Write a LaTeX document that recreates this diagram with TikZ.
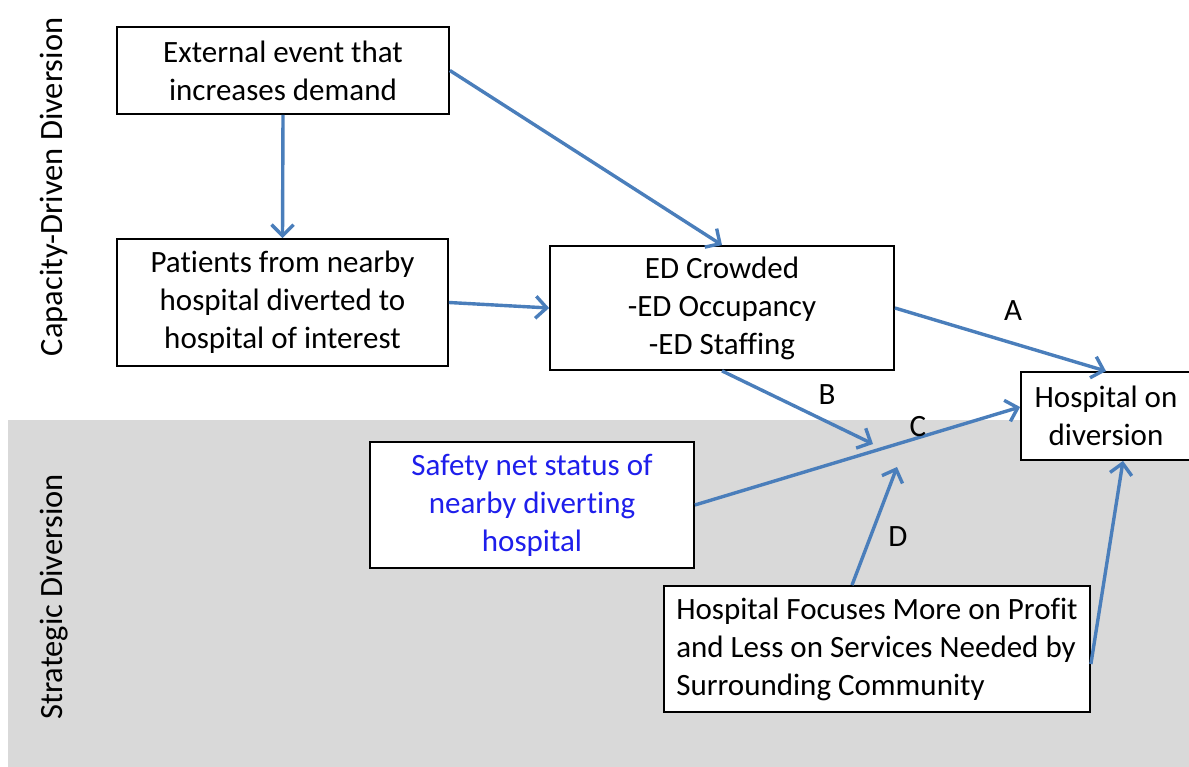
\documentclass[tikz,border=0pt]{standalone}
\usepackage{fontspec}
\setmainfont{Carlito}[Ligatures=NoCommon]
\usetikzlibrary{arrows.meta}
\definecolor{linkblue}{RGB}{74,126,187}
\definecolor{zonegray}{RGB}{217,217,217}
\definecolor{netblue}{RGB}{30,30,235}
\begin{document}
\begin{tikzpicture}[x=1pt,y=-1pt,
  every node/.style={font=\fontsize{31}{38}\selectfont},
  box/.style={draw=black,line width=1.8pt,fill=white,inner sep=0pt,align=center},
  link/.style={draw=linkblue,line width=3.4pt,
    -{Straight Barb[length=11pt,width=22pt,line width=3.4pt]}},
  side/.style={rotate=90,font=\fontsize{32.5}{40}\selectfont},
  tag/.style={inner sep=0pt}]
\useasboundingbox (0,0) rectangle (1189,767);
% strategic zone background
\fill[zonegray] (8,420) rectangle (1195,775);

% side captions
\node[side] (capcap) at (54,187) {Capacity-Driven Diversion};
\node[side] (capstr) at (54,597) {Strategic Diversion};

% boxes
\node[box,minimum width=332pt,minimum height=87pt] (ext) at (283,70.5)
  {External event that\\increases demand};
\node[box,minimum width=331pt,minimum height=127pt] (pat) at (282.5,302.5)
  {Patients from nearby\\hospital diverted to\\hospital of interest};
\node[box,minimum width=344pt,minimum height=124pt] (ed) at (722,308)
  {ED Crowded\\-ED Occupancy\\-ED Staffing};
\node[box,minimum width=170pt,minimum height=88pt] (div) at (1106,416)
  {Hospital on\\diversion};
\node[box,minimum width=324pt,minimum height=126pt,text=netblue] (net) at (532,505)
  {Safety net status of\\nearby diverting\\hospital};
\node[box,minimum width=426pt,minimum height=126pt,align=left] (prof) at (877,649)
  {Hospital Focuses More on Profit\\and Less on Services Needed by\\Surrounding Community};

% free ends meeting the C connector
\coordinate (bend) at (873,444);
\coordinate (dend) at (897,467);

% connectors
\draw[link] (ext.south) -- (pat.north);
\draw[link] (ext.east) -- (ed.north);
\draw[link] (pat.east) -- (ed.west);
\draw[link] (ed.east) -- (div.north);
\draw[link] (ed.south) -- (bend);
\draw[link] (net.east) -- ([yshift=9pt]div.west);
\draw[link] ([xshift=-25pt]prof.north) -- (dend);
\draw[link] ([yshift=-15pt]prof.east) -- ([xshift=17pt]div.south);

% connector labels
\node[tag] (la) at (1013,311) {A};
\node[tag] (lb) at (827,395) {B};
\node[tag] (lc) at (918,427) {C};
\node[tag] (ld) at (898,537) {D};
\end{tikzpicture}
\end{document}
